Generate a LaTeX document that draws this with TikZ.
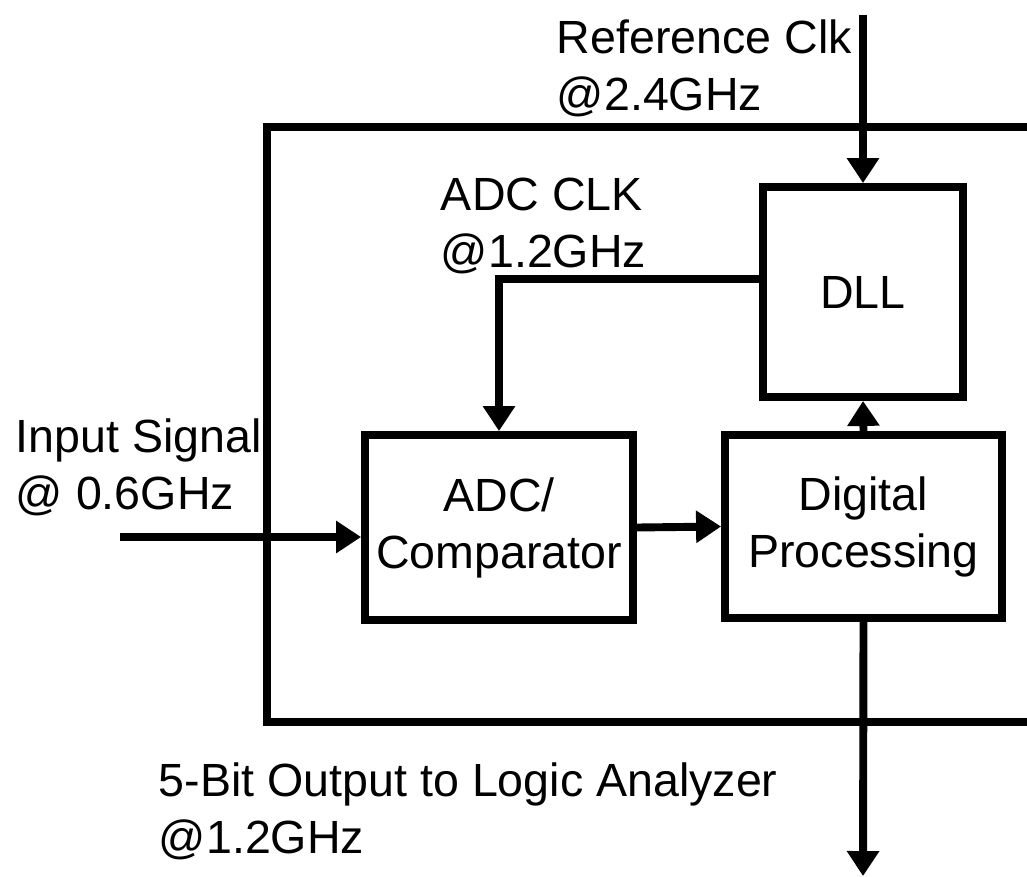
\documentclass[tikz,border=0pt]{standalone}
\usepackage{fontspec}
\setmainfont{Liberation Sans}
\usetikzlibrary{arrows.meta}
\begin{document}
\begin{tikzpicture}[x=0.02cm,y=-0.02cm,>={Triangle[length=0.5cm,width=0.62cm]},line width=4.5pt,font=\fontsize{26.5}{32.4}\selectfont,
  blk/.style={draw,line width=4.5pt,inner sep=0pt,align=center},
  lbl/.style={anchor=west,align=left,inner sep=0pt}]
\useasboundingbox (0,0) rectangle (1027,876);
% outer frame, open on the right
\draw (1027,127) -| (267,722) -- (1027,722);
% blocks
\node[blk,minimum width=4cm,minimum height=4.2cm] (dll) at (863,292){DLL};
\node[blk,minimum width=5.36cm,minimum height=3.7cm] (adc) at (499,527.5){ADC/\\Comparator};
\node[blk,minimum width=5.54cm,minimum height=3.66cm] (dsp) at (863.5,526.5){Digital\\Processing};
% labels
\node[lbl] (reflbl) at (553,68){Reference Clk\\@2.4GHz};
\node[lbl] (clklbl) at (437,226){ADC CLK\\@1.2GHz};
\node[lbl] (inlbl) at (12,467){Input Signal\\@ 0.6GHz};
\node[lbl] (outlbl) at (155,811){5-Bit Output to Logic Analyzer\\@1.2GHz};
% connectors
\coordinate (refin) at (863,15); \coordinate (insig) at (120,537); \coordinate (outsig) at (863,876);
\draw[->] (refin) -- (dll.north);
\draw[->] (dll.173) -| (adc.north);
\draw[->] (insig) -- (insig -| adc.west);
\draw[->] (adc.east) -- (dsp.west);
\draw[->] (dsp.north) -- (dll.south);
\draw[->] (dsp.south) -- (outsig);
\end{tikzpicture}
\end{document}
